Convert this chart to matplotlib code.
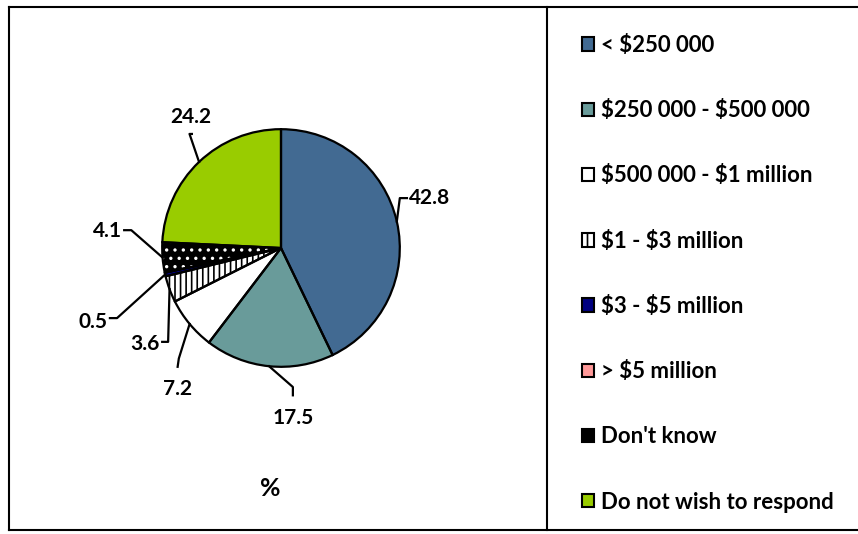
#!/usr/bin/env python3
"""
Pie chart of response shares by value band, with a side legend.
Writes out.png (858x534).
"""

import numpy as np
import matplotlib
matplotlib.use('Agg')
import matplotlib.pyplot as plt
from matplotlib.lines import Line2D

# ---- data -------------------------------------------------------------
categories = ['< $250 000', '$250 000 - $500 000', '$500 000 - $1 million',
              '$1 - $3 million', '$3 - $5 million', '> $5 million',
              "Don't know", 'Do not wish to respond']
values = [42.8, 17.5, 7.2, 3.6, 0.5, 0.0, 4.1, 24.2]
value_labels = ['42.8', '17.5', '7.2', '3.6', '0.5', '', '4.1', '24.2']
unit_label = '%'

colors = ['#426a92', '#699b9a', '#ffffff', '#ffffff', '#000080', '#ff9999',
          '#000000', '#99cc00']
hatches = [None, None, None, '|||', None, None, '..', None]
hatch_colors = ['black', 'black', 'black', 'black', 'black', 'black',
                'white', 'black']

# leader layout per label (pie-radius units): elbow point, end point, text pos
leaders = [
    ((1.00, 0.42), (1.06, 0.42), (1.08, 0.42), 'left'),
    ((0.10, -1.17), (0.10, -1.24), (0.10, -1.43), 'center'),
    ((-0.86, -0.93), (-0.87, -1.00), (-0.87, -1.19), 'center'),
    ((-0.95, -0.79), (-1.00, -0.79), (-1.02, -0.81), 'right'),
    ((-1.38, -0.59), (-1.44, -0.59), (-1.46, -0.62), 'right'),
    None,
    ((-1.26, 0.15), (-1.32, 0.15), (-1.34, 0.14), 'right'),
    ((-0.77, 0.96), (-0.75, 0.96), (-0.76, 1.10), 'center'),
]

plt.rcParams['font.family'] = ['Lato', 'DejaVu Sans']
plt.rcParams['font.weight'] = 'bold'
plt.rcParams['text.parse_math'] = False
plt.rcParams['hatch.linewidth'] = 1.2

W, H = 858, 534
fig = plt.figure(figsize=(W / 100, H / 100), dpi=100)

# pie axes: centre (281, 248) px, radius 120 px
cx, cy, r = 281, 248, 120
ax = fig.add_axes([(cx - r) / W, (H - cy - r) / H, 2 * r / W, 2 * r / H])

wedges, _ = ax.pie(values, colors=colors, startangle=90, counterclock=False,
                   radius=1, wedgeprops=dict(linewidth=0))
for w, h, hc in zip(wedges, hatches, hatch_colors):
    w.set_edgecolor(hc)
    if h:
        w.set_hatch(h)
# black outlines on top
ax.pie(values, colors=['none'] * len(values), startangle=90,
       counterclock=False, radius=1,
       wedgeprops=dict(linewidth=1.6, edgecolor='black', fill=False))
ax.set_xlim(-1.01, 1.01)
ax.set_ylim(-1.01, 1.01)
ax.axis('off')

total = sum(values)
cum = 0.0
for v, lab, ld in zip(values, value_labels, leaders):
    mid = cum + v / 2
    cum += v
    if ld is None or not lab:
        continue
    ang = np.deg2rad(90 - mid / total * 360)
    x0, y0 = np.cos(ang), np.sin(ang)
    (ex, ey), (fx, fy), (tx, ty), ha = ld
    ax.add_line(Line2D([x0, ex, fx], [y0, ey, fy], color='black', lw=1.6,
                       clip_on=False))
    ax.text(tx, ty, lab, ha=ha, va='center', fontsize=15, fontweight='bold')

fig.text(270 / W, 1 - 488 / H, unit_label, ha='center', va='center',
         fontsize=18, fontweight='bold')

# frame lines (no right edge)
def fline(xs, ys):
    fig.add_artist(Line2D([x / W for x in xs], [1 - y / H for y in ys],
                          color='black', lw=1.5))

fline([9, 9], [7, 530])
fline([9, W], [7, 7])
fline([9, W], [530, 530])
fline([547, 547], [7, 530])

leg = fig.legend(wedges, categories, loc='upper left',
                 bbox_to_anchor=(582 / W, 1 - 35 / H), frameon=False,
                 fontsize=16, borderpad=0, borderaxespad=0,
                 handlelength=0.55, handleheight=0.55, handletextpad=0.3,
                 labelspacing=1.99)
for t in leg.get_texts():
    t.set_fontweight('bold')
for hnd, h in zip(leg.legend_handles, hatches):
    hnd.set_edgecolor('black')
    hnd.set_linewidth(1.5)
    hnd.set_hatch('||' if h == '|||' else None)

fig.savefig('out.png', dpi=100)
plt.close(fig)
